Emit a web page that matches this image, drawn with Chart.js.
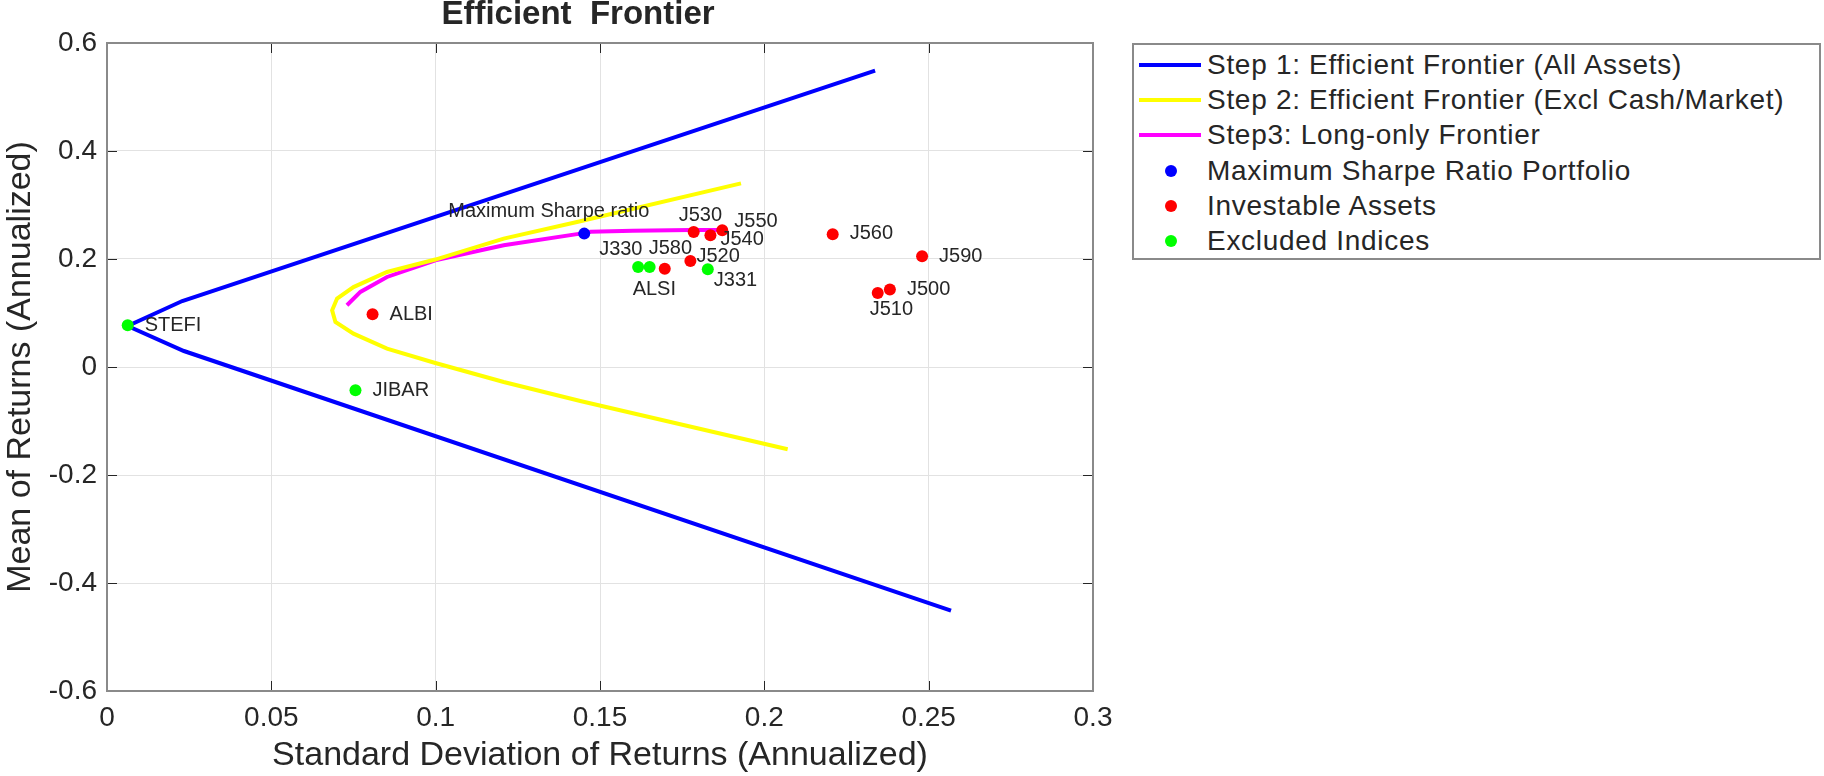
<!DOCTYPE html>
<html>
<head>
<meta charset="utf-8">
<script src="https://cdn.jsdelivr.net/npm/chart.js@4.4.1/dist/chart.umd.min.js"></script>
<style>
html, body { margin: 0; padding: 0; background: #fff; }
#wrap { position: relative; width: 1824px; height: 776px; overflow: hidden; }
#legend { position: absolute; left: 1132px; top: 43px; width: 689px; height: 217px; border: 2px solid #8a8a8a; box-sizing: border-box; background: #fff;
  font-family: "Liberation Sans", Arial, sans-serif; font-size: 28px; letter-spacing: 0.7px; color: #262626; }
.row { position: absolute; left: 0; height: 36px; width: 100%; }
.sw { position: absolute; top: 50%; }
.txt { position: absolute; left: 73px; top: 50%; transform: translateY(-50%); white-space: nowrap; }
</style>
</head>
<body>
<div id="wrap">
  <canvas id="frontierChart" width="1824" height="776"></canvas>
  <div id="legend"></div>
</div>
<script>
// Step 1: frontier over all assets
const sdAll  = [0.2568, 0.0234, 0.0063, 0.0229, 0.2337];
const retAll = [-0.451, 0.0296, 0.0759, 0.1222, 0.549];

// Step 2: frontier excluding cash / market
const sdExcl  = [0.2071, 0.1440, 0.1207, 0.0999, 0.0852, 0.0750, 0.0695, 0.0685, 0.0700, 0.0750, 0.0852, 0.0999, 0.1207, 0.1440, 0.1929];
const retExcl = [-0.1524, -0.063, -0.0278, 0.0074, 0.034, 0.0618, 0.0834, 0.105, 0.1267, 0.148, 0.176, 0.199, 0.2378, 0.2698, 0.340];

// Step 3: long-only frontier
const sdLong  = [0.0730, 0.0771, 0.0852, 0.0999, 0.1207, 0.1440, 0.1471, 0.1600, 0.1775, 0.1872];
const retLong = [0.1143, 0.139, 0.1667, 0.1976, 0.2254, 0.247, 0.2505, 0.2525, 0.2535, 0.2535];

// max sharpe portfolio
const sharpeName = ['Maximum Sharpe ratio'];
const sharpeSd   = [0.1452];
const sharpeRet  = [0.247];

const investableNames = ['ALBI', 'J500', 'J510', 'J520', 'J530', 'J540', 'J550', 'J560', 'J580', 'J590'];
const investableSd    = [0.0808, 0.2382, 0.2345, 0.1775, 0.1785, 0.1836, 0.1872, 0.2208, 0.1697, 0.2480];
const investableRet   = [0.0976, 0.1434, 0.137, 0.1963, 0.250, 0.2439, 0.2532, 0.2457, 0.182, 0.205];

const excludedNames = ['STEFI', 'JIBAR', 'ALSI', 'J330', 'J331'];
const excludedSd    = [0.0063, 0.0756, 0.1651, 0.1616, 0.1828];
const excludedRet   = [0.0772, -0.0432, 0.1852, 0.1852, 0.181];

const xTicks = [0, 0.05, 0.1, 0.15, 0.2, 0.25, 0.3];
const yTicks = [-0.6, -0.4, -0.2, 0, 0.2, 0.4, 0.6];

// where each text label sits relative to its dot (px)
const labelOffsets = {
  'STEFI': [17, 0], 'ALBI': [17, 0], 'JIBAR': [17, 0],
  'J560': [17, -1], 'J590': [17, 0], 'J500': [17, 0], 'J510': [-8, 16],
  'J550': [12, -9], 'J540': [10, 4], 'J530': [-15, -17], 'J520': [6, -5],
  'J331': [6, 11], 'J330': [-39, -18], 'J580': [-16, -20], 'ALSI': [-17, 22],
  'Maximum Sharpe ratio': [-136, -22]
};

const FONT = '"Liberation Sans", Arial, sans-serif';
const INK = '#262626';

const pts = (xs, ys) => xs.map((x, i) => ({ x: x, y: ys[i] }));
const fmt = v => String(Math.round(v * 100) / 100);

const lineDs = (label, xs, ys, color) => ({
  label: label, data: pts(xs, ys), showLine: true, borderColor: color, backgroundColor: color,
  borderWidth: 4, pointRadius: 0, tension: 0, order: 1
});
const dotDs = (label, xs, ys, color, names) => ({
  label: label, data: pts(xs, ys), showLine: false, borderColor: color, backgroundColor: color,
  pointRadius: 6, pointBorderWidth: 0, order: 0, names: names
});

const matlabFrame = {
  id: 'matlabFrame',
  afterDatasetsDraw(chart) {
    const ctx = chart.ctx;
    ctx.save();
    ctx.font = '20px ' + FONT;
    ctx.fillStyle = INK;
    ctx.textBaseline = 'middle';
    ctx.textAlign = 'left';
    chart.data.datasets.forEach((ds, i) => {
      if (!ds.names) return;
      chart.getDatasetMeta(i).data.forEach((p, j) => {
        const o = labelOffsets[ds.names[j]] || [12, 0];
        ctx.fillText(ds.names[j], p.x + o[0], p.y + o[1]);
      });
    });
    ctx.restore();
  },
  afterDraw(chart) {
    const ctx = chart.ctx, a = chart.chartArea;
    const xs = chart.scales.x, ys = chart.scales.y;
    ctx.save();
    // inward tick marks, all four sides
    ctx.strokeStyle = INK;
    ctx.lineWidth = 1;
    ctx.beginPath();
    xTicks.forEach(t => {
      const px = Math.round(xs.getPixelForValue(t)) + 0.5;
      ctx.moveTo(px, a.bottom); ctx.lineTo(px, a.bottom - 10);
      ctx.moveTo(px, a.top); ctx.lineTo(px, a.top + 10);
    });
    yTicks.forEach(t => {
      const py = Math.round(ys.getPixelForValue(t)) + 0.5;
      ctx.moveTo(a.left, py); ctx.lineTo(a.left + 10, py);
      ctx.moveTo(a.right, py); ctx.lineTo(a.right - 10, py);
    });
    ctx.stroke();
    // box
    ctx.strokeStyle = '#8a8a8a';
    ctx.lineWidth = 2;
    ctx.strokeRect(a.left, a.top, a.right - a.left, a.bottom - a.top);
    // title
    ctx.fillStyle = INK;
    ctx.font = 'bold 33px ' + FONT;
    ctx.textAlign = 'center';
    ctx.textBaseline = 'middle';
    ctx.fillText('Efficient  Frontier', 578, 15);
    ctx.restore();
  }
};

const chart = new Chart(document.getElementById('frontierChart'), {
  type: 'scatter',
  data: {
    datasets: [
      lineDs('Step 1: Efficient Frontier (All Assets)', sdAll, retAll, '#0000ff'),
      lineDs('Step 2: Efficient Frontier (Excl Cash/Market)', sdExcl, retExcl, '#ffff00'),
      lineDs('Step3: Long-only Frontier', sdLong, retLong, '#ff00ff'),
      dotDs('Maximum Sharpe Ratio Portfolio', sharpeSd, sharpeRet, '#0000ff', sharpeName),
      dotDs('Investable Assets', investableSd, investableRet, '#ff0000', investableNames),
      dotDs('Excluded Indices', excludedSd, excludedRet, '#00ff00', excludedNames)
    ]
  },
  options: {
    responsive: false,
    animation: false,
    layout: { padding: { top: 43, right: 731, bottom: 0, left: 0 } },
    plugins: { legend: { display: false }, tooltip: { enabled: false }, title: { display: false } },
    scales: {
      x: {
        type: 'linear', min: 0, max: 0.3,
        afterFit: s => { s.height = 85; },
        afterBuildTicks: s => { s.ticks = xTicks.map(v => ({ value: v })); },
        ticks: { callback: fmt, color: INK, padding: 10, font: { family: FONT, size: 28 } },
        grid: { color: '#e2e2e2', lineWidth: 1, drawTicks: false },
        border: { display: false },
        title: { display: true, text: 'Standard Deviation of Returns (Annualized)', color: INK,
                 font: { family: FONT, size: 34 }, padding: { top: 0, bottom: 0 } }
      },
      y: {
        type: 'linear', min: -0.6, max: 0.6,
        afterFit: s => { s.width = 107; },
        afterBuildTicks: s => { s.ticks = yTicks.map(v => ({ value: v })); },
        ticks: { callback: fmt, color: INK, padding: 10, font: { family: FONT, size: 28 } },
        grid: { color: '#e2e2e2', lineWidth: 1, drawTicks: false },
        border: { display: false },
        title: { display: true, text: 'Mean of Returns (Annualized)', color: INK,
                 font: { family: FONT, size: 34 }, padding: { top: 0, bottom: 0 } }
      }
    }
  },
  plugins: [matlabFrame]
});

// MATLAB-style legend box, built from the datasets
const legend = document.getElementById('legend');
chart.data.datasets.forEach((ds, i) => {
  const row = document.createElement('div');
  row.className = 'row';
  row.style.top = (2 + i * 35.2) + 'px';
  const sw = document.createElement('div');
  sw.className = 'sw';
  if (ds.showLine) {
    sw.style.cssText = 'left:5px;width:62px;height:4px;margin-top:-2px;background:' + ds.borderColor;
  } else {
    sw.style.cssText = 'left:31px;width:12px;height:12px;margin-top:-6px;border-radius:50%;background:' + ds.backgroundColor;
  }
  const txt = document.createElement('div');
  txt.className = 'txt';
  txt.textContent = ds.label;
  row.appendChild(sw);
  row.appendChild(txt);
  legend.appendChild(row);
});
</script>
</body>
</html>
